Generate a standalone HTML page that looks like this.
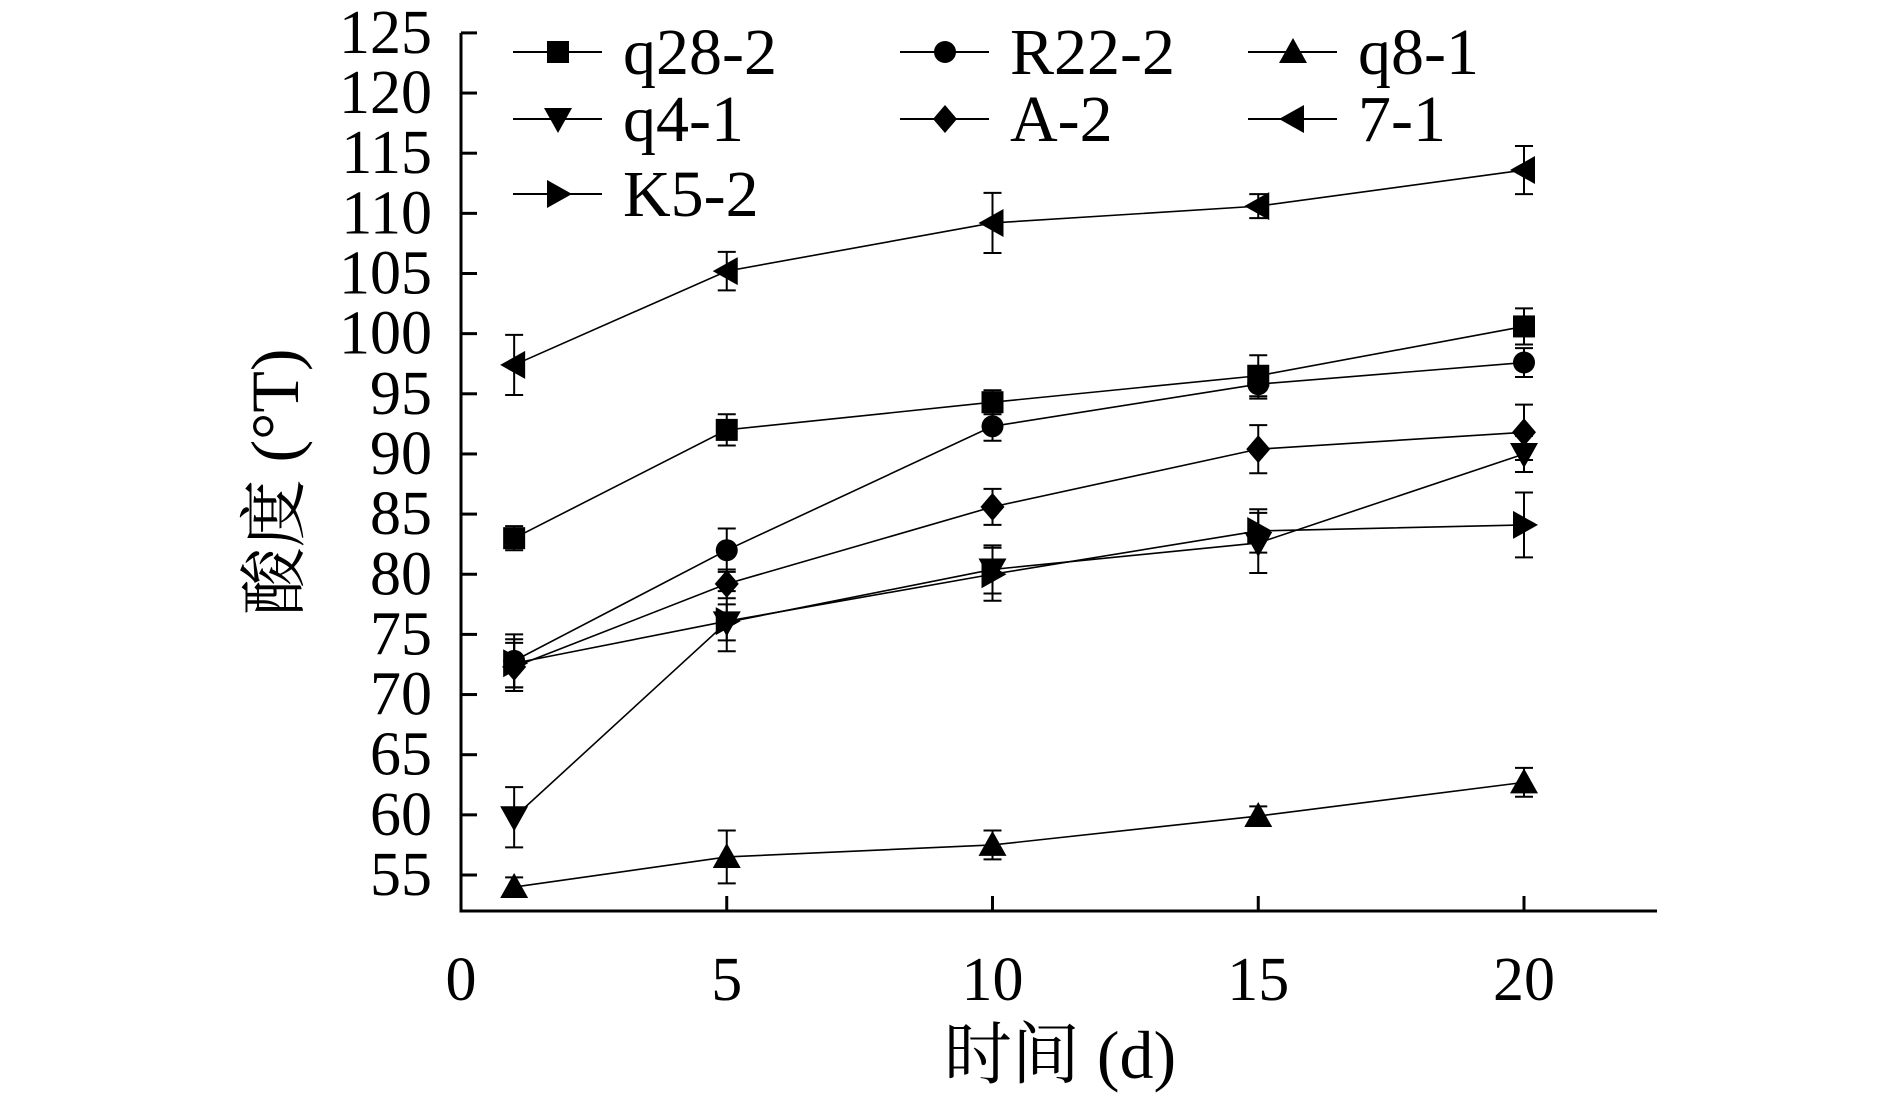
<!DOCTYPE html>
<html><head><meta charset="utf-8"><style>
body{margin:0;background:#fff}
svg text{font-family:"Liberation Serif","Noto Serif CJK SC",serif;fill:#000}
</style></head><body>
<svg id="c" width="1890" height="1100" xmlns="http://www.w3.org/2000/svg"></svg>
<script>
const days=[1,5,10,15,20];
const seriesNames=["q28-2","R22-2","q8-1","q4-1","A-2","7-1","K5-2"];
const markers=["square","circle","up","down","diamond","left","right"];
const vQ28=[83,92,94.3,96.5,100.6];
const eQ28=[1,1.3,1,1.7,1.5];
const vR22=[72.8,82,92.3,95.8,97.6];
const eR22=[2.2,1.8,1.2,1.2,1.2];
const vQ8=[54,56.5,57.5,59.9,62.7];
const eQ8=[0.8,2.2,1.2,0.8,1.2];
const vQ4=[59.8,76,80.4,82.6,90];
const eQ4=[2.5,1.5,2,2.5,1.5];
const vA2=[72.3,79.2,85.6,90.4,91.8];
const eA2=[2,1.2,1.5,2,2.3];
const v71=[97.4,105.2,109.2,110.6,113.6];
const e71=[2.5,1.6,2.5,1,2];
const vK5=[72.6,76.1,80,83.6,84.1];
const eK5=[2,2.5,2.2,1.8,2.7];
const xTicks=[0,5,10,15,20];
const yTicks=[55,60,65,70,75,80,85,90,95,100,105,110,115,120,125];
const values=[vQ28,vR22,vQ8,vQ4,vA2,v71,vK5];
const errs=[eQ28,eR22,eQ8,eQ4,eA2,e71,eK5];

const svg=document.getElementById('c');
const NS="http://www.w3.org/2000/svg";
const X0=461,XU=53.15,Y55=875,YU=12.03;
const sx=d=>X0+d*XU, sy=v=>Y55-(v-55)*YU;
function el(t,a,p){const e=document.createElementNS(NS,t);for(const k in a)e.setAttribute(k,a[k]);(p||svg).appendChild(e);return e;}
function marker(type,x,y,g){
  let e;
  if(type==="square")e=el('rect',{x:x-11,y:y-11,width:22,height:22},g);
  else if(type==="circle")e=el('circle',{cx:x,cy:y,r:11},g);
  else{let p;
    if(type==="up")p=[[x,y-14],[x+14,y+11],[x-14,y+11]];
    if(type==="down")p=[[x,y+14],[x+14,y-11],[x-14,y-11]];
    if(type==="left")p=[[x-14,y],[x+11,y-14],[x+11,y+14]];
    if(type==="right")p=[[x+14,y],[x-11,y-14],[x-11,y+14]];
    if(type==="diamond")p=[[x,y-14],[x+12,y],[x,y+14],[x-12,y]];
    e=el('polygon',{points:p.map(q=>q.join(',')).join(' ')},g);}
  e.setAttribute('fill','#000');
  
  
}
const ax=el('path',{d:`M${X0} ${sy(125)} V911 H1657`,fill:'none',stroke:'#000','stroke-width':3});


yTicks.forEach(t=>{
  const l=el('line',{x1:X0,x2:X0+16,y1:sy(t),y2:sy(t),stroke:'#000','stroke-width':3});
  
  
  const tx=el('text',{x:432,y:sy(t)+20,'text-anchor':'end','font-size':62});
  tx.textContent=t;
  
  
});
xTicks.forEach(t=>{
  if(t>0){const l=el('line',{x1:sx(t),x2:sx(t),y1:911,y2:896,stroke:'#000','stroke-width':3});
  
  }
  const tx=el('text',{x:sx(t),y:1000,'text-anchor':'middle','font-size':62});
  tx.textContent=t;
  
  
});
const xt=el('text',{x:1060,y:1078,'text-anchor':'middle','font-size':68});
xt.textContent="时间 (d)";


const yt=el('text',{x:0,y:0,'text-anchor':'middle','font-size':68,transform:'translate(298,482) rotate(-90)'});
yt.textContent="酸度 (°T)";


values.forEach((vals,i)=>{
  const g=el('g',{});
  
  
  const pl=el('polyline',{points:days.map((d,j)=>sx(d)+','+sy(vals[j])).join(' '),fill:'none',stroke:'#000','stroke-width':1.6},g);
  
  
  days.forEach((d,j)=>{
    const x=sx(d),y1=sy(vals[j]+errs[i][j]),y2=sy(vals[j]-errs[i][j]);
    const eb=el('path',{d:`M${x} ${y1}V${y2}M${x-9} ${y1}H${x+9}M${x-9} ${y2}H${x+9}`,stroke:'#000','stroke-width':2,fill:'none'},g);
    
    
    marker(markers[i],x,sy(vals[j]),g);
  });
});
const colX=[513,900,1248],rowY=[52,119,194];
seriesNames.forEach((n,i)=>{
  const c=i%3,r=Math.floor(i/3);
  const g=el('g',{});
  
  
  const x=colX[c],y=rowY[r];
  el('line',{x1:x,x2:x+89,y1:y,y2:y,stroke:'#000','stroke-width':2},g);
  marker(markers[i],x+45,y,g);
  const t=el('text',{x:x+110,y:y+22,'font-size':66},g);
  t.textContent=n;
});
</script>
</body></html>
